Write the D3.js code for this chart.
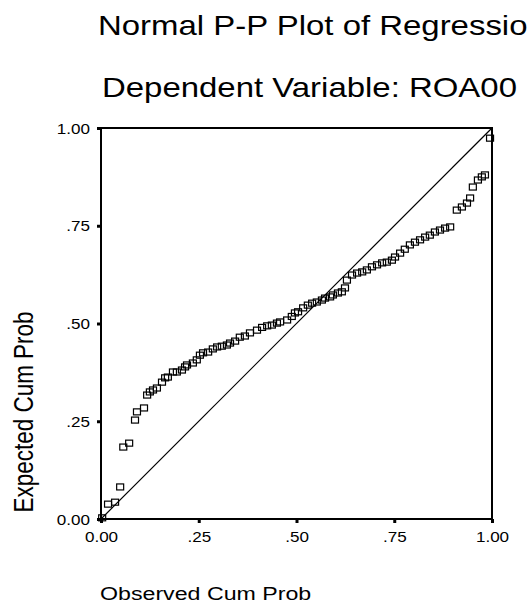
<!DOCTYPE html>
<html>
<head>
<meta charset="utf-8">
<script src="https://cdn.jsdelivr.net/npm/d3@7"></script>
<style>
	html, body { margin: 0; padding: 0; background: #fff; }
	svg { display: block; font-family: "Liberation Sans", Arial, sans-serif; }
</style>
</head>
<body>
<svg id="chart" width="528" height="607"></svg>
<script>
// observed vs expected cumulative probabilities
let observedCumProb = [
	0.003, 0.018, 0.036, 0.049, 0.057, 0.072, 0.087, 0.092, 0.110, 0.118,
	0.125, 0.133, 0.143, 0.156, 0.164, 0.171, 0.184, 0.194, 0.207, 0.215,
	0.220, 0.235, 0.245, 0.253, 0.261, 0.274, 0.286, 0.297, 0.309, 0.322,
	0.330, 0.343, 0.355, 0.368, 0.381, 0.399, 0.412, 0.425, 0.437, 0.450,
	0.458, 0.476, 0.488, 0.496, 0.504, 0.517, 0.529, 0.540, 0.552, 0.565,
	0.573, 0.586, 0.593, 0.606, 0.616, 0.624, 0.629, 0.642, 0.655, 0.668,
	0.680, 0.693, 0.706, 0.719, 0.731, 0.744, 0.752, 0.765, 0.777, 0.790,
	0.803, 0.816, 0.829, 0.841, 0.854, 0.867, 0.880, 0.893, 0.910, 0.923,
	0.936, 0.944, 0.951, 0.964, 0.974, 0.982, 0.995
];
let expectedCumProb = [
	0.003, 0.038, 0.043, 0.082, 0.184, 0.194, 0.253, 0.274, 0.284, 0.317,
	0.325, 0.330, 0.335, 0.350, 0.361, 0.363, 0.376, 0.376, 0.381, 0.389,
	0.394, 0.399, 0.407, 0.419, 0.425, 0.427, 0.435, 0.440, 0.442, 0.445,
	0.450, 0.455, 0.465, 0.468, 0.476, 0.483, 0.490, 0.494, 0.496, 0.501,
	0.504, 0.509, 0.518, 0.527, 0.530, 0.540, 0.547, 0.552, 0.555, 0.560,
	0.565, 0.568, 0.573, 0.578, 0.581, 0.591, 0.611, 0.624, 0.629, 0.632,
	0.637, 0.645, 0.650, 0.655, 0.657, 0.662, 0.670, 0.680, 0.690, 0.701,
	0.708, 0.714, 0.721, 0.726, 0.734, 0.739, 0.744, 0.747, 0.790, 0.798,
	0.808, 0.821, 0.849, 0.867, 0.875, 0.880, 0.974
];
let tickValues = [0, 0.25, 0.5, 0.75, 1];
let tickLabels = ['0.00', '.25', '.50', '.75', '1.00'];
// the scan cuts the first title line at the right edge
let titleLines = ['Normal P-P Plot of Regressio', 'Dependent Variable: ROA00'];
let xTitle = 'Observed Cum Prob';
let yTitle = 'Expected Cum Prob';

let svg = d3.select('#chart');
let margin = {left: 101, top: 128, right: 36, bottom: 88};
let w = 528 - margin.left - margin.right;
let h = 607 - margin.top - margin.bottom;
let stretch = 1.22; // the scan is wider than it is tall

let x = d3.scaleLinear().domain([0, 1]).range([0, w]);
let y = d3.scaleLinear().domain([0, 1]).range([h, 0]);

// titles
svg.selectAll('text.title').data(titleLines).enter().append('text')
	.attr('class', 'title')
	.attr('transform', (d, i) => `translate(${i === 0 ? 98 : 102},${i === 0 ? 35 : 97}) scale(${stretch},1)`)
	.attr('font-size', 27)
	.attr('fill', '#000')
	.text(d => d);

let g = svg.append('g').attr('transform', `translate(${margin.left},${margin.top})`);

// axes
let fmt = d => tickLabels[tickValues.indexOf(d)];
let xAxis = g.append('g').attr('transform', `translate(0,${h})`)
	.call(d3.axisBottom(x).tickValues(tickValues).tickFormat(fmt).tickSize(4).tickSizeOuter(0));
let yAxis = g.append('g')
	.call(d3.axisLeft(y).tickValues(tickValues).tickFormat(fmt).tickSize(4).tickSizeOuter(0));
[xAxis, yAxis].forEach(a => {
	a.select('.domain').remove();
	a.selectAll('line').attr('stroke', '#000').attr('stroke-width', 3);
	a.selectAll('text').attr('font-size', 14).attr('fill', '#000');
});
xAxis.selectAll('.tick text')
	.attr('x', 0).attr('y', 0).attr('dy', '0.71em')
	.attr('transform', `translate(0,13) scale(${stretch},1)`);
yAxis.selectAll('.tick text')
	.attr('x', 0).attr('dy', '0.36em')
	.attr('transform', `translate(-11,0) scale(${stretch},1)`);
svg.attr('font-family', null);
g.selectAll('g').attr('font-family', null);

// frame
g.append('rect').attr('width', w).attr('height', h)
	.attr('fill', 'none').attr('stroke', '#000').attr('stroke-width', 2);

// reference diagonal
g.append('line')
	.attr('x1', x(0)).attr('y1', y(0)).attr('x2', x(1)).attr('y2', y(1))
	.attr('stroke', '#000').attr('stroke-width', 1.2);

// points
let pts = observedCumProb.map((d, i) => ({obs: d, exp: expectedCumProb[i]}));
let sw = 7, sh = 6;
g.selectAll('rect.pt').data(pts).enter().append('rect')
	.attr('class', 'pt')
	.attr('x', d => x(d.obs) - sw / 2)
	.attr('y', d => y(d.exp) - sh / 2)
	.attr('width', sw).attr('height', sh)
	.attr('fill', 'none').attr('stroke', '#000').attr('stroke-width', 1.2);

// axis titles
svg.append('text')
	.attr('transform', `translate(100,600) scale(${stretch},1)`)
	.attr('font-size', 19).attr('fill', '#000')
	.text(xTitle);
svg.append('text')
	.attr('transform', `translate(33,412) scale(${stretch},1) rotate(-90)`)
	.attr('text-anchor', 'middle')
	.attr('font-size', 22.5).attr('fill', '#000')
	.text(yTitle);
</script>
</body>
</html>
